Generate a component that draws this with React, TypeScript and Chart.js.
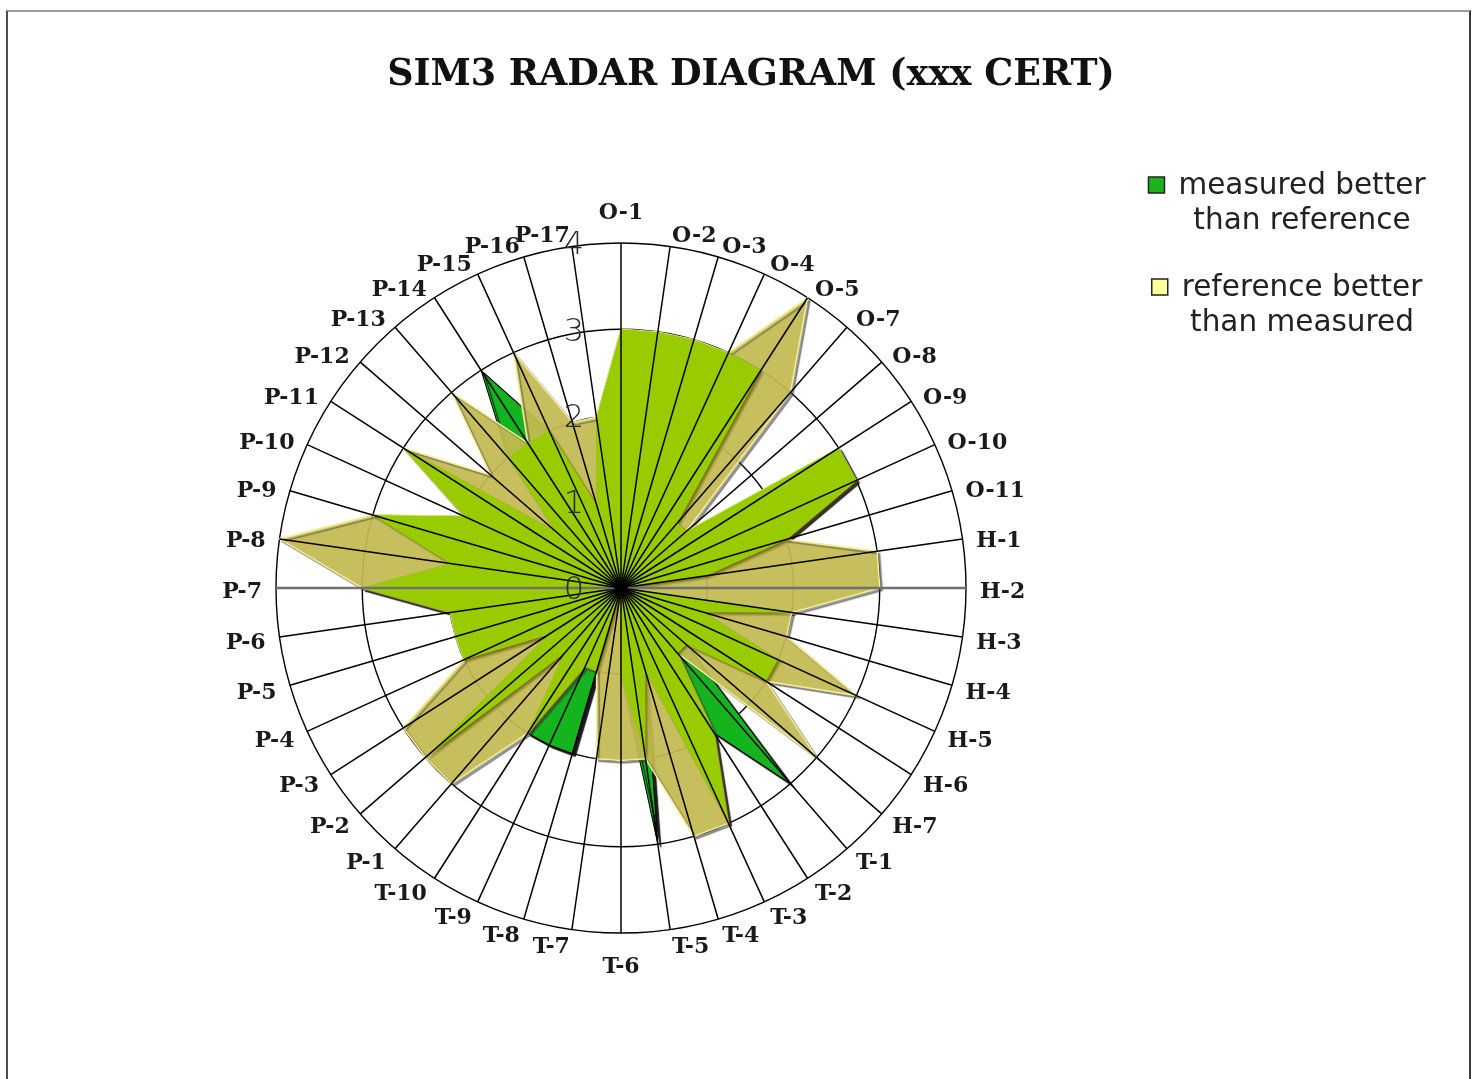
import React, { useEffect, useRef } from 'react';
import { Chart, registerables } from 'chart.js';

// ---------- data ----------
const CATEGORIES = [
  'O-1', 'O-2', 'O-3', 'O-4', 'O-5', 'O-7', 'O-8', 'O-9', 'O-10', 'O-11',
  'H-1', 'H-2', 'H-3', 'H-4', 'H-5', 'H-6', 'H-7',
  'T-1', 'T-2', 'T-3', 'T-4', 'T-5', 'T-6', 'T-7', 'T-8', 'T-9', 'T-10',
  'P-1', 'P-2', 'P-3', 'P-4', 'P-5', 'P-6', 'P-7', 'P-8', 'P-9', 'P-10',
  'P-11', 'P-12', 'P-13', 'P-14', 'P-15', 'P-16', 'P-17',
];

const REFERENCE = [
  3, 3, 3, 3, 4, 3, 1, 3, 3, 2,
  3, 3, 2, 2, 3, 2, 3,
  1, 2, 3, 3, 2, 2, 2, 1, 1, 2,
  3, 3, 3, 2, 2, 2, 3, 4, 3, 2, 3, 2, 3, 2, 3, 2, 2,
];

const MEASURED = [
  3, 3, 3, 3, 3, 1, 1, 3, 3, 2,
  1, 0, 2, 1, 2, 2, 1,
  3, 2, 3, 1, 3, 1, 0, 2, 2, 2,
  1, 3, 1, 2, 2, 2, 3, 2, 3, 2, 3, 1, 2, 3, 2, 1, 2,
];

// light-green area where both series reach
const OVERLAP = [
  3, 3, 3, 3, 3, 1, 1, 3, 3, 2,
  1, 0, 2, 1, 2, 2, 1,
  1, 2, 3, 1, 2, 1, 0, 1, 1, 2,
  1, 3, 1, 2, 2, 2, 3, 2, 3, 2, 3, 1, 2, 2, 2, 1, 2,
];

const SCALE_MIN = 0;
const SCALE_MAX = 4;
const TICK_STEP = 1;

const TITLE = 'SIM3 RADAR DIAGRAM (xxx CERT)';
const SERIES_NAMES = ['overlap', 'reference better than measured', 'measured better than reference'];
const LEGEND_LINES = [
  ['measured better', 'than reference'],
  ['reference better', 'than measured'],
];

// ---------- styles ----------
const COL_OVERLAP = '#99cc00';
const COL_REFERENCE = 'rgba(206,195,84,0.87)';
const COL_REFERENCE_EDGE = '#f4ee98';
const COL_MEASURED = '#14b41e';
const LEGEND_COLORS = ['#1db31d', '#ffff99'];

const shadowPlugin = {
  id: 'seriesShadow',
  beforeDatasetDraw(chart: any, args: any) {
    const ctx = chart.ctx;
    ctx.save();
    const s = chart.data.datasets[args.index].shadow;
    if (s) {
      ctx.shadowColor = s.color;
      ctx.shadowOffsetX = s.x;
      ctx.shadowOffsetY = s.y;
      ctx.shadowBlur = s.blur;
    }
  },
  afterDatasetDraw(chart: any) {
    chart.ctx.restore();
  },
};

Chart.register(shadowPlugin);
Chart.register(...registerables);

const overlayPlugin = {
  id: 'radarOverlay',
  afterDatasetsDraw(chart: any) {
    const ctx = chart.ctx;
    const scale = chart.scales.r;
    const labels = chart.data.labels as string[];
    const n = labels.length;
    const R = scale.drawingArea;
    ctx.save();
    // spokes on top of the areas
    for (let i = 0; i < n; i++) {
      const p = scale.getPointPosition(i, R);
      const horizontal = Math.abs(Math.cos(scale.getIndexAngle(i))) < 1e-6;
      ctx.strokeStyle = horizontal ? '#707070' : '#000';
      ctx.lineWidth = horizontal ? 2.4 : 1.5;
      ctx.beginPath();
      ctx.moveTo(scale.xCenter, scale.yCenter);
      ctx.lineTo(p.x, p.y);
      ctx.stroke();
    }
    ctx.fillStyle = '#000';
    ctx.beginPath();
    ctx.arc(scale.xCenter, scale.yCenter, 7, 0, Math.PI * 2);
    ctx.fill();

    // value labels left of the vertical axis
    ctx.font = '300 32px "DejaVu Sans"';
    ctx.fillStyle = '#2a2a2a';
    ctx.textAlign = 'right';
    ctx.textBaseline = 'middle';
    scale.ticks.forEach((t: any) => {
      const y = scale.yCenter - scale.getDistanceFromCenterForValue(t.value);
      ctx.fillText(String(t.value), scale.xCenter - 37, y + 3);
    });

    // category labels around the outer ring
    ctx.font = 'bold 22px "DejaVu Serif"';
    ctx.fillStyle = '#1a1a1a';
    ctx.textBaseline = 'middle';
    for (let i = 0; i < n; i++) {
      const a = scale.getIndexAngle(i);
      const s = Math.sin(a);
      if (Math.abs(s) < 1e-6) {
        const p = scale.getPointPosition(i, R + 32);
        ctx.textAlign = 'center';
        ctx.fillText(labels[i], p.x, p.y + 2);
      } else {
        const p = scale.getPointPosition(i, R + 14);
        ctx.textAlign = s > 0 ? 'left' : 'right';
        ctx.fillText(labels[i], p.x, p.y + 4);
      }
    }
    ctx.restore();
  },
  afterDraw(chart: any) {
    const ctx = chart.ctx;
    ctx.save();
    // title
    ctx.font = 'bold 36.4px "DejaVu Serif"';
    ctx.fillStyle = '#111';
    ctx.textAlign = 'center';
    ctx.textBaseline = 'middle';
    ctx.fillText(TITLE, 751, 76);
    // legend
    ctx.font = '29.5px "DejaVu Sans"';
    const cx = 1302;
    const tops = [186, 288];
    LEGEND_LINES.forEach((lines, k) => {
      const y0 = tops[k];
      lines.forEach((ln, j) => {
        ctx.fillStyle = '#222';
        ctx.fillText(ln, cx, y0 + j * 35);
      });
      const w = ctx.measureText(lines[0]).width;
      const bx = cx - w / 2 - 30;
      ctx.fillStyle = LEGEND_COLORS[k];
      ctx.fillRect(bx, y0 - 9, 16, 16);
      ctx.strokeStyle = '#222';
      ctx.lineWidth = 1.5;
      ctx.strokeRect(bx, y0 - 9, 16, 16);
    });
    ctx.restore();
  },
};

export default function App() {
  const ref = useRef<HTMLCanvasElement>(null);

  useEffect(() => {
    const chart = new Chart(ref.current as HTMLCanvasElement, {
      type: 'radar',
      data: {
        labels: CATEGORIES,
        datasets: [
          {
            label: SERIES_NAMES[0],
            data: OVERLAP,
            backgroundColor: COL_OVERLAP,
            borderWidth: 0,
            fill: true,
            order: 1,
            pointRadius: 0,
            shadow: { color: 'rgba(80,70,0,0.55)', x: 2, y: 2, blur: 2 },
          } as any,
          {
            label: SERIES_NAMES[1],
            data: REFERENCE,
            backgroundColor: COL_REFERENCE,
            borderColor: COL_REFERENCE_EDGE,
            borderWidth: 1.5,
            fill: true,
            order: 2,
            pointRadius: 0,
            shadow: { color: 'rgba(60,60,60,0.55)', x: 2.5, y: 2.5, blur: 1 },
          } as any,
          {
            label: SERIES_NAMES[2],
            data: MEASURED,
            backgroundColor: COL_MEASURED,
            borderColor: '#000',
            borderWidth: 1,
            fill: true,
            order: 3,
            pointRadius: 0,
            shadow: { color: 'rgba(0,0,0,0.9)', x: 3, y: 3, blur: 1 },
          } as any,
        ],
      },
      options: {
        responsive: false,
        maintainAspectRatio: false,
        devicePixelRatio: 1,
        animation: false,
        events: [],
        elements: { line: { tension: 0 } },
        layout: { padding: { left: 276, right: 511, top: 243, bottom: 146 } },
        plugins: {
          legend: { display: false },
          title: { display: false },
          tooltip: { enabled: false },
        },
        scales: {
          r: {
            min: SCALE_MIN,
            max: SCALE_MAX,
            ticks: { stepSize: TICK_STEP, display: false },
            grid: { circular: true, color: '#000', lineWidth: 1.4 },
            angleLines: { display: false },
            pointLabels: { display: false },
          },
        },
      },
      plugins: [overlayPlugin],
    } as any);
    return () => chart.destroy();
  }, []);

  return (
    <div style={{ position: 'absolute', left: 0, top: 0, width: 1477, height: 1079, overflow: 'hidden', background: '#fff' }}>
      <div
        style={{
          position: 'absolute', left: 6, top: 10, width: 1465, height: 1200, boxSizing: 'border-box',
          borderTop: '2px solid #9b9b9b', borderLeft: '2px solid #4d4d4d', borderRight: '2px solid #3a3a3a',
        }}
      />
      <canvas ref={ref} width={1477} height={1079} style={{ position: 'absolute', left: 0, top: 0 }} />
    </div>
  );
}
